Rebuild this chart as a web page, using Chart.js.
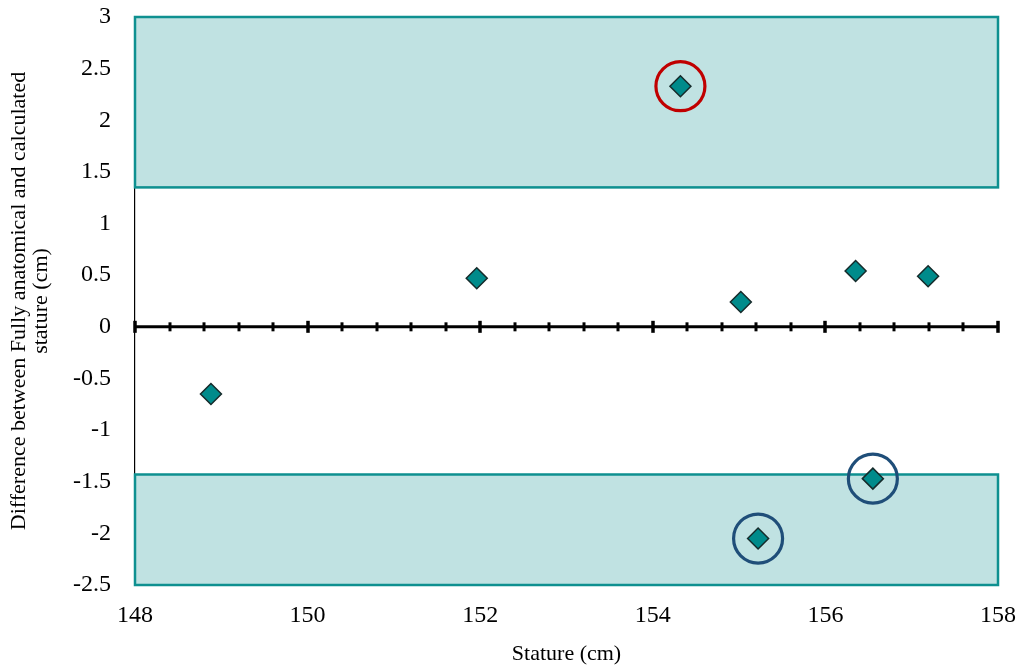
<!DOCTYPE html>
<html>
<head>
<meta charset="utf-8">
<script src="https://cdn.jsdelivr.net/npm/chart.js@4/dist/chart.umd.min.js"></script>
<style>
  html, body { margin: 0; padding: 0; background: #fff; }
  #wrap { width: 1027px; height: 667px; }
</style>
</head>
<body>
<div id="wrap"><canvas id="chart" width="1027" height="667"></canvas></div>
<script>
// stature (cm) vs difference (cm)
const statures    = [148.88, 151.96, 154.32, 155.02, 155.22, 156.35, 156.55, 157.19];
const differences = [-0.65, 0.47, 2.33, 0.24, -2.05, 0.54, -1.47, 0.49];

// shaded bands [from, to] on the y axis
const bandsY = [[1.35, 3], [-2.5, -1.43]];

// highlighted points (index into the arrays above) and ring colour
const ringIndex  = [2, 4, 6];
const ringColors = ['#c00000', '#1f4e79', '#1f4e79'];

const xMin = 148, xMax = 158, xMajor = 2, xMinor = 0.4;
const yMin = -2.5, yMax = 3, yStep = 0.5;

const points = statures.map((x, i) => ({ x: x, y: differences[i] }));
const serif = "'Liberation Serif', 'DejaVu Serif', serif";

const decorPlugin = {
    id: 'decor',
    beforeDatasetsDraw(chart) {
        const ctx = chart.ctx;
        const xs = chart.scales.x, ys = chart.scales.y;
        const left = xs.getPixelForValue(xMin), right = xs.getPixelForValue(xMax);
        ctx.save();
        // bands
        bandsY.forEach(b => {
            const yTop = ys.getPixelForValue(b[1]);
            const yBot = ys.getPixelForValue(b[0]);
            ctx.fillStyle = '#c0e2e2';
            ctx.fillRect(left, yTop, right - left, yBot - yTop);
            ctx.strokeStyle = '#0e9090';
            ctx.lineWidth = 2.5;
            ctx.strokeRect(left, yTop, right - left, yBot - yTop);
        });
        // zero axis with ticks
        const y0 = ys.getPixelForValue(0);
        ctx.strokeStyle = '#000';
        ctx.lineWidth = 3;
        ctx.beginPath();
        ctx.moveTo(left, y0);
        ctx.lineTo(right, y0);
        ctx.stroke();
        const n = Math.round((xMax - xMin) / xMinor);
        for (let i = 0; i <= n; i++) {
            const v = xMin + i * xMinor;
            const px = Math.round(xs.getPixelForValue(v));
            const isMajor = Math.abs((v - xMin) / xMajor - Math.round((v - xMin) / xMajor)) < 1e-6;
            const h = isMajor ? 6 : 4.5;
            ctx.lineWidth = isMajor ? 3.5 : 3;
            ctx.beginPath();
            ctx.moveTo(px, y0 - h);
            ctx.lineTo(px, y0 + h);
            ctx.stroke();
        }
        ctx.restore();
    },
    afterDatasetsDraw(chart) {
        const ctx = chart.ctx;
        const xs = chart.scales.x, ys = chart.scales.y;
        ctx.save();
        ringIndex.forEach((idx, k) => {
            const px = xs.getPixelForValue(statures[idx]);
            const py = ys.getPixelForValue(differences[idx]);
            ctx.strokeStyle = ringColors[k];
            ctx.lineWidth = 3.2;
            ctx.beginPath();
            ctx.arc(px, py, 24.5, 0, Math.PI * 2);
            ctx.stroke();
        });
        ctx.restore();
    }
};

new Chart(document.getElementById('chart'), {
    type: 'scatter',
    data: {
        datasets: [{
            data: points,
            pointStyle: 'rectRot',
            pointRadius: 10.5,
            pointHoverRadius: 10.5,
            backgroundColor: '#008b8b',
            borderColor: '#152b2b',
            borderWidth: 1.5
        }]
    },
    options: {
        responsive: false,
        animation: false,
        layout: { padding: 0 },
        plugins: {
            legend: { display: false },
            tooltip: { enabled: false }
        },
        scales: {
            x: {
                type: 'linear',
                min: xMin,
                max: xMax,
                grid: { display: false, drawTicks: false },
                border: { display: false },
                ticks: {
                    stepSize: xMajor,
                    color: '#000',
                    padding: 16,
                    font: { family: serif, size: 24 }
                },
                title: {
                    display: true,
                    text: 'Stature (cm)',
                    color: '#000',
                    padding: { top: 8, bottom: 0 },
                    font: { family: serif, size: 22 }
                },
                afterFit: s => {
                    s.height = 82;
                    s.paddingLeft = 0;
                    s.paddingRight = 29;
                }
            },
            y: {
                type: 'linear',
                min: yMin,
                max: yMax,
                grid: { display: false, drawTicks: false },
                border: { display: true, color: '#000', width: 1.2 },
                ticks: {
                    stepSize: yStep,
                    color: '#000',
                    padding: 24,
                    font: { family: serif, size: 24 },
                    callback: v => String(Number(v.toFixed(1)))
                },
                title: {
                    display: true,
                    text: ['Difference between Fully anatomical and calculated', 'stature (cm)'],
                    color: '#000',
                    padding: { top: 8, bottom: 10 },
                    font: { family: serif, size: 22, lineHeight: 1.0 }
                },
                afterFit: s => {
                    s.width = 135;
                    s.paddingTop = 17;
                    s.paddingBottom = 0;
                }
            }
        }
    },
    plugins: [decorPlugin]
});
</script>
</body>
</html>
